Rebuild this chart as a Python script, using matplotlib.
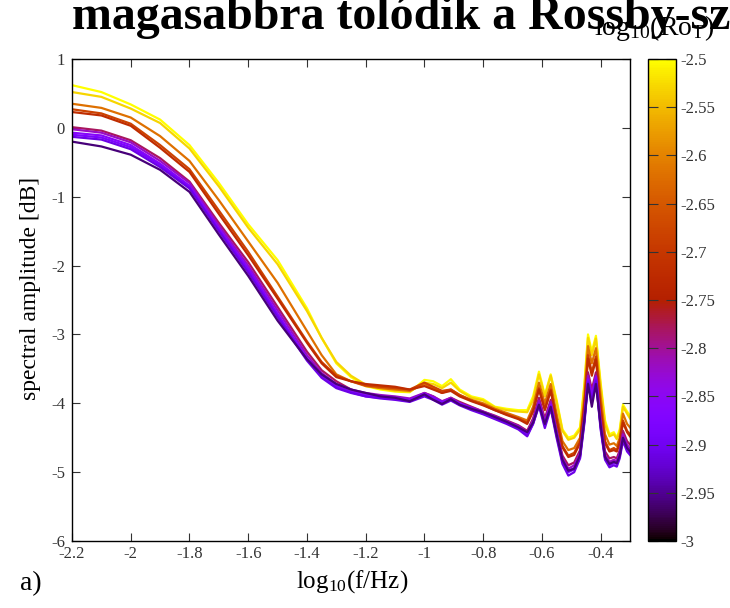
import matplotlib
matplotlib.use('Agg')
import matplotlib.pyplot as plt
from matplotlib import cm, colors

plt.rcParams['font.family'] = ['Liberation Serif', 'DejaVu Serif']
plt.rcParams['mathtext.fontset'] = 'custom'
plt.rcParams['mathtext.rm'] = 'Liberation Serif'
plt.rcParams['mathtext.it'] = 'Liberation Serif:italic'
plt.rcParams['axes.unicode_minus'] = False

# log10 of frequency
log_f = [-2.2, -2.1, -2.0, -1.9, -1.8, -1.7, -1.6, -1.5,
         -1.4, -1.35, -1.3, -1.25, -1.2, -1.15, -1.1, -1.05,
         -1.0, -0.97, -0.94, -0.91, -0.88, -0.84, -0.8, -0.76,
         -0.72, -0.68, -0.65, -0.63, -0.61, -0.59, -0.57, -0.55,
         -0.53, -0.51, -0.49, -0.47, -0.455, -0.443, -0.43, -0.416,
         -0.4, -0.385, -0.37, -0.355, -0.345, -0.335, -0.324, -0.31, -0.3]

# log10(Ro_T) of each run
ro_values = [-2.50, -2.53, -2.62, -2.68, -2.72, -2.78, -2.82, -2.86, -2.88, -2.91, -2.96]

amp_250 = [0.62, 0.52, 0.34, 0.12, -0.25, -0.80, -1.40, -1.92,
           -2.62, -3.05, -3.42, -3.62, -3.75, -3.80, -3.83, -3.84,
           -3.66, -3.68, -3.75, -3.65, -3.80, -3.90, -3.94, -4.05,
           -4.08, -4.10, -4.10, -3.90, -3.54, -3.88, -3.58, -3.95,
           -4.38, -4.50, -4.47, -4.35, -3.70, -3.00, -3.25, -3.02,
           -3.70, -4.25, -4.45, -4.42, -4.50, -4.38, -4.02, -4.12, -4.18]
amp_253 = [0.52, 0.45, 0.28, 0.07, -0.30, -0.85, -1.45, -1.98,
           -2.66, -3.05, -3.40, -3.60, -3.73, -3.78, -3.82, -3.83,
           -3.70, -3.72, -3.78, -3.70, -3.82, -3.92, -3.96, -4.06,
           -4.10, -4.12, -4.13, -3.95, -3.58, -3.90, -3.60, -3.98,
           -4.40, -4.53, -4.50, -4.38, -3.75, -3.05, -3.30, -3.06,
           -3.75, -4.30, -4.48, -4.45, -4.52, -4.42, -4.05, -4.15, -4.22]
amp_262 = [0.35, 0.29, 0.15, -0.12, -0.48, -1.05, -1.65, -2.25,
           -2.95, -3.30, -3.58, -3.68, -3.75, -3.78, -3.80, -3.82,
           -3.72, -3.78, -3.85, -3.80, -3.88, -3.95, -4.00, -4.08,
           -4.14, -4.20, -4.25, -4.05, -3.70, -4.00, -3.72, -4.15,
           -4.55, -4.68, -4.65, -4.50, -3.90, -3.17, -3.42, -3.20,
           -3.90, -4.45, -4.60, -4.58, -4.62, -4.50, -4.15, -4.30, -4.35]
amp_268 = [0.27, 0.21, 0.06, -0.25, -0.60, -1.20, -1.80, -2.45,
           -3.10, -3.40, -3.60, -3.68, -3.74, -3.76, -3.78, -3.80,
           -3.70, -3.76, -3.82, -3.80, -3.88, -3.96, -4.02, -4.10,
           -4.16, -4.22, -4.28, -4.10, -3.78, -4.08, -3.80, -4.22,
           -4.62, -4.76, -4.72, -4.55, -4.00, -3.30, -3.55, -3.32,
           -4.05, -4.55, -4.68, -4.65, -4.68, -4.55, -4.25, -4.40, -4.45]
amp_272 = [0.23, 0.18, 0.03, -0.29, -0.64, -1.25, -1.85, -2.48,
           -3.12, -3.42, -3.62, -3.68, -3.72, -3.74, -3.76, -3.80,
           -3.75, -3.80, -3.85, -3.82, -3.90, -3.97, -4.03, -4.10,
           -4.17, -4.23, -4.30, -4.12, -3.80, -4.10, -3.82, -4.25,
           -4.64, -4.78, -4.75, -4.58, -4.02, -3.35, -3.60, -3.36,
           -4.08, -4.58, -4.70, -4.68, -4.70, -4.58, -4.28, -4.42, -4.48]
amp_278 = [0.01, -0.04, -0.18, -0.44, -0.78, -1.38, -1.95, -2.60,
           -3.25, -3.52, -3.68, -3.80, -3.88, -3.90, -3.92, -3.95,
           -3.85, -3.90, -3.98, -3.92, -3.98, -4.05, -4.12, -4.18,
           -4.25, -4.32, -4.40, -4.22, -3.92, -4.22, -3.95, -4.38,
           -4.76, -4.90, -4.86, -4.68, -4.15, -3.55, -3.80, -3.55,
           -4.22, -4.70, -4.80, -4.78, -4.80, -4.68, -4.40, -4.55, -4.60]
amp_282 = [-0.02, -0.07, -0.21, -0.48, -0.80, -1.42, -2.00, -2.65,
           -3.30, -3.56, -3.72, -3.80, -3.85, -3.88, -3.90, -3.93,
           -3.85, -3.90, -3.97, -3.92, -4.00, -4.06, -4.12, -4.19,
           -4.26, -4.33, -4.42, -4.25, -3.96, -4.26, -3.98, -4.42,
           -4.80, -4.95, -4.90, -4.72, -4.20, -3.60, -3.85, -3.60,
           -4.28, -4.75, -4.85, -4.82, -4.84, -4.72, -4.45, -4.60, -4.66]
amp_286 = [-0.07, -0.11, -0.25, -0.52, -0.84, -1.46, -2.04, -2.70,
           -3.35, -3.60, -3.75, -3.83, -3.88, -3.90, -3.92, -3.95,
           -3.86, -3.92, -4.00, -3.94, -4.00, -4.07, -4.14, -4.20,
           -4.27, -4.35, -4.44, -4.28, -4.00, -4.30, -4.02, -4.45,
           -4.82, -4.98, -4.94, -4.75, -4.22, -3.65, -3.90, -3.62,
           -4.32, -4.78, -4.88, -4.85, -4.86, -4.75, -4.50, -4.64, -4.70]
amp_288 = [-0.10, -0.14, -0.28, -0.54, -0.86, -1.48, -2.06, -2.72,
           -3.35, -3.60, -3.76, -3.84, -3.90, -3.92, -3.94, -3.97,
           -3.88, -3.92, -3.98, -3.95, -4.02, -4.08, -4.15, -4.22,
           -4.28, -4.36, -4.46, -4.30, -4.02, -4.32, -4.05, -4.47,
           -4.85, -5.00, -4.96, -4.78, -4.25, -3.68, -3.95, -3.66,
           -4.35, -4.80, -4.90, -4.87, -4.88, -4.77, -4.52, -4.66, -4.72]
amp_291 = [-0.13, -0.17, -0.31, -0.57, -0.88, -1.50, -2.10, -2.75,
           -3.38, -3.63, -3.78, -3.85, -3.90, -3.93, -3.95, -3.98,
           -3.90, -3.95, -4.02, -3.96, -4.03, -4.10, -4.16, -4.23,
           -4.30, -4.38, -4.48, -4.30, -4.04, -4.36, -4.08, -4.50,
           -4.88, -5.05, -5.00, -4.80, -4.28, -3.70, -3.98, -3.68,
           -4.38, -4.82, -4.93, -4.90, -4.92, -4.80, -4.55, -4.70, -4.75]
amp_296 = [-0.20, -0.27, -0.39, -0.61, -0.93, -1.55, -2.15, -2.80,
           -3.36, -3.58, -3.72, -3.80, -3.85, -3.90, -3.92, -3.97,
           -3.87, -3.95, -4.01, -3.94, -4.02, -4.08, -4.13, -4.20,
           -4.27, -4.35, -4.42, -4.28, -4.02, -4.30, -4.05, -4.45,
           -4.82, -4.98, -4.95, -4.75, -4.22, -3.72, -4.05, -3.72,
           -4.32, -4.78, -4.88, -4.85, -4.87, -4.76, -4.50, -4.65, -4.70]

spectra = [amp_250, amp_253, amp_262, amp_268, amp_272, amp_278,
           amp_282, amp_286, amp_288, amp_291, amp_296]

x_ticks = [-2.2, -2.0, -1.8, -1.6, -1.4, -1.2, -1.0, -0.8, -0.6, -0.4]
x_tick_labels = ['-2.2', '-2', '-1.8', '-1.6', '-1.4', '-1.2', '-1', '-0.8', '-0.6', '-0.4']
y_ticks = [1, 0, -1, -2, -3, -4, -5, -6]
cb_ticks = [-2.5, -2.55, -2.6, -2.65, -2.7, -2.75, -2.8, -2.85, -2.9, -2.95, -3]

fig = plt.figure(figsize=(7.30, 6.08), dpi=100)
ax = fig.add_axes([72/730, 1 - 541/608, (630 - 72)/730, (541 - 59)/608])
cax = fig.add_axes([648/730, 1 - 541/608, 28/730, (541 - 59)/608])

norm = colors.Normalize(vmin=-3, vmax=-2.5)
cmap = plt.get_cmap('gnuplot')

for ro, amp in zip(ro_values, spectra):
    ax.plot(log_f, amp, color=cmap(norm(ro)), lw=1.6)

ax.set_xlim(-2.2, -0.3)
ax.set_ylim(-6, 1)
ax.set_xticks(x_ticks)
ax.set_xticklabels(x_tick_labels)
ax.set_yticks(y_ticks)
ax.tick_params(direction='in', top=True, right=True, length=6, width=0.8,
               labelsize=12, colors='#333333')
ax.tick_params(axis='y', pad=5)
for s in ax.spines.values():
    s.set_linewidth(1.0)

fig.text(31/730, 1 - 288/608, 'spectral amplitude [dB]', fontsize=17,
         rotation=90, ha='center', va='center')
fig.text(352/730, 1 - 588/608, r'log$_{10}$(f/Hz)', fontsize=18, ha='center', va='baseline')
fig.text(20/730, 1 - 590/608, 'a)', fontsize=20, va='baseline')

sm = cm.ScalarMappable(norm=norm, cmap=cmap)
cb = fig.colorbar(sm, cax=cax, ticks=cb_ticks)
cb.ax.set_yticklabels([f'{t:g}' for t in cb_ticks])
cb.ax.tick_params(direction='in', left=True, right=True, length=7, width=0.8,
                  labelsize=12, colors='#333333')
cb.outline.set_linewidth(1.0)

fig.text(72/730, 1 - 29/608, 'magasabbra tolódik a Rossby-szám', fontsize=34.5,
         fontweight='bold', va='baseline')
fig.text(594/730, 1 - 35/608, r'log$_{10}$(Ro$_{\mathrm{T}}$)', fontsize=20, va='baseline')

fig.savefig('out.png', dpi=100)
